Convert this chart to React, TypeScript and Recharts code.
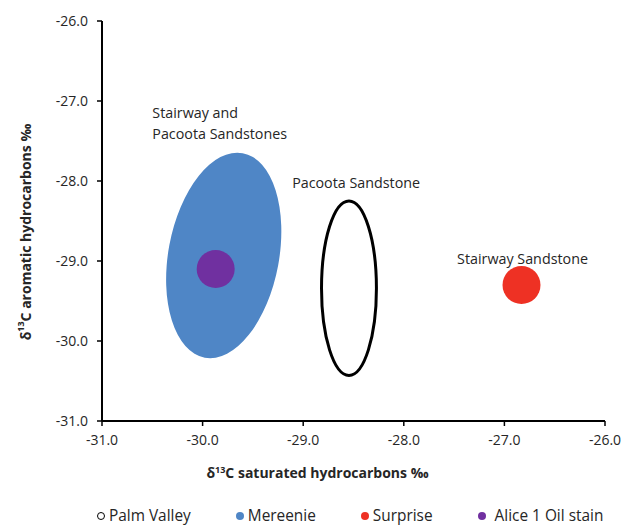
import React from 'react';
import { ScatterChart, Scatter, XAxis, YAxis, ReferenceArea, Legend } from 'recharts';

const xTicks = [-31, -30, -29, -28, -27, -26];
const yTicks = [-31, -30, -29, -28, -27, -26];

// oil fields drawn as ellipses: centre, half-extent on each axis (data units), tilt in degrees
const fields = [
  { name: 'Mereenie', x: -29.79, y: -28.93, dx: 0.55, dy: 1.3, tilt: 10.5, fill: '#4f86c6', stroke: 'none' },
  { name: 'Palm Valley', x: -28.545, y: -29.34, dx: 0.273, dy: 1.09, tilt: 0, fill: 'none', stroke: '#000' },
];
const alice = [{ x: -29.87, y: -29.1 }];
const surprise = [{ x: -26.83, y: -29.3 }];

const notes = [
  { x: -30.5, y: -27.14, lines: ['Stairway and', 'Pacoota Sandstones'] },
  { x: -29.11, y: -28.01, lines: ['Pacoota Sandstone'] },
  { x: -27.47, y: -28.96, lines: ['Stairway Sandstone'] },
];

const legendItems = [
  { name: 'Palm Valley', color: '#000', open: true },
  { name: 'Mereenie', color: '#4f86c6', open: false },
  { name: 'Surprise', color: '#ee3124', open: false },
  { name: 'Alice 1 Oil stain', color: '#7030a0', open: false },
];

const FONT = '"Open Sans", sans-serif';
const TXT = '#262626';

function renderLegend() {
  return (
    <div style={{ display: 'flex', paddingLeft: 97, fontFamily: FONT, fontSize: 15.4, color: TXT, lineHeight: '20px', height: 20, whiteSpace: 'nowrap' }}>
      {legendItems.map((it) => (
        <div key={it.name} style={{ display: 'flex', alignItems: 'center', marginRight: 45, flexShrink: 0 }}>
          <span
            style={{
              display: 'inline-block', width: it.open ? 6 : 8, height: it.open ? 6 : 8, borderRadius: '50%', flexShrink: 0,
              background: it.open ? 'none' : it.color, border: it.open ? '1.6px solid #000' : 'none', marginRight: it.name.startsWith('Alice') ? 9 : 4,
            }}
          />
          <span>{it.name}</span>
        </div>
      ))}
    </div>
  );
}

function Dot(color: string) {
  return (p: any) => <circle cx={p.cx} cy={p.cy} r={19} fill={color} />;
}

function NoteShape(p: any) {
  const lines: string[] = p.payload.lines;
  return (
    <text x={p.cx} y={p.cy} fontFamily={FONT} fontSize={14.3} fill={TXT} dominantBaseline="central">
      {lines.map((l, i) => (
        <tspan key={i} x={p.cx} dy={i === 0 ? 0 : 21}>{l}</tspan>
      ))}
    </text>
  );
}

export default function App() {
  return (
    <div style={{ position: 'absolute', left: 0, top: 0, background: '#fff' }}>
      <ScatterChart width={627} height={527} margin={{ top: 21, right: 22, bottom: 46, left: 0 }} style={{ fontFamily: FONT }}>
        <XAxis
          type="number" dataKey="x" domain={[-31, -26]} ticks={xTicks} allowDataOverflow
          tickFormatter={(v: number) => v.toFixed(1)}
          tick={{ fontSize: 14, fill: TXT }} tickSize={5} tickMargin={9} height={60}
          axisLine={{ stroke: '#000', strokeWidth: 2 }} tickLine={{ stroke: '#000', strokeWidth: 1.5 }}
          label={(props: any) => {
            const vb = props.viewBox;
            return (
              <text x={vb.x + vb.width / 2 - 36} y={vb.y + 57} textAnchor="middle" fontFamily={FONT} fontSize={14} fontWeight={700} fill={TXT}>
                δ<tspan fontSize={9} dy={-5}>13</tspan><tspan dy={5}>C saturated hydrocarbons ‰</tspan>
              </text>
            );
          }}
        />
        <XAxis xAxisId="top" orientation="top" type="number" domain={[-31, -26]} height={0} tick={false} tickLine={false}
          axisLine={{ stroke: '#000', strokeWidth: 2 }} />
        <YAxis
          type="number" dataKey="y" domain={[-31, -26]} ticks={yTicks} allowDataOverflow
          tickFormatter={(v: number) => v.toFixed(1)}
          tick={{ fontSize: 14, fill: TXT }} tickSize={5} tickMargin={9} width={102}
          axisLine={{ stroke: '#000', strokeWidth: 2 }} tickLine={{ stroke: '#000', strokeWidth: 1.5 }}
          label={(props: any) => {
            const vb = props.viewBox;
            const cy = vb.y + vb.height / 2 + 11;
            return (
              <text x={25} y={cy} transform={`rotate(-90 25 ${cy})`} textAnchor="middle" dominantBaseline="central"
                fontFamily={FONT} fontSize={14} fontWeight={700} fill={TXT}>
                δ<tspan fontSize={9} dy={-5}>13</tspan><tspan dy={5}>C aromatic hydrocarbons ‰</tspan>
              </text>
            );
          }}
        />
        <YAxis yAxisId="right" orientation="right" type="number" domain={[-31, -26]} width={0} tick={false} tickLine={false}
          axisLine={{ stroke: '#000', strokeWidth: 2 }} />
        {fields.map((f) => (
          <ReferenceArea
            key={f.name}
            x1={f.x - f.dx} x2={f.x + f.dx} y1={f.y - f.dy} y2={f.y + f.dy}
            shape={(p: any) => {
              const cx = p.x + p.width / 2;
              const cy = p.y + p.height / 2;
              return (
                <ellipse cx={cx} cy={cy} rx={Math.abs(p.width) / 2} ry={Math.abs(p.height) / 2}
                  transform={`rotate(${f.tilt} ${cx} ${cy})`} fill={f.fill} stroke={f.stroke} strokeWidth={3} />
              );
            }}
          />
        ))}
        <Scatter name="Alice 1 Oil stain" data={alice} fill="#7030a0" shape={Dot('#7030a0')} isAnimationActive={false} />
        <Scatter name="Surprise" data={surprise} fill="#ee3124" shape={Dot('#ee3124')} isAnimationActive={false} />
        <Scatter name="notes" data={notes} shape={NoteShape} isAnimationActive={false} />
        <Legend verticalAlign="middle" content={renderLegend} wrapperStyle={{ top: 506, left: 0, width: 627, height: 20 }} />
      </ScatterChart>
    </div>
  );
}
